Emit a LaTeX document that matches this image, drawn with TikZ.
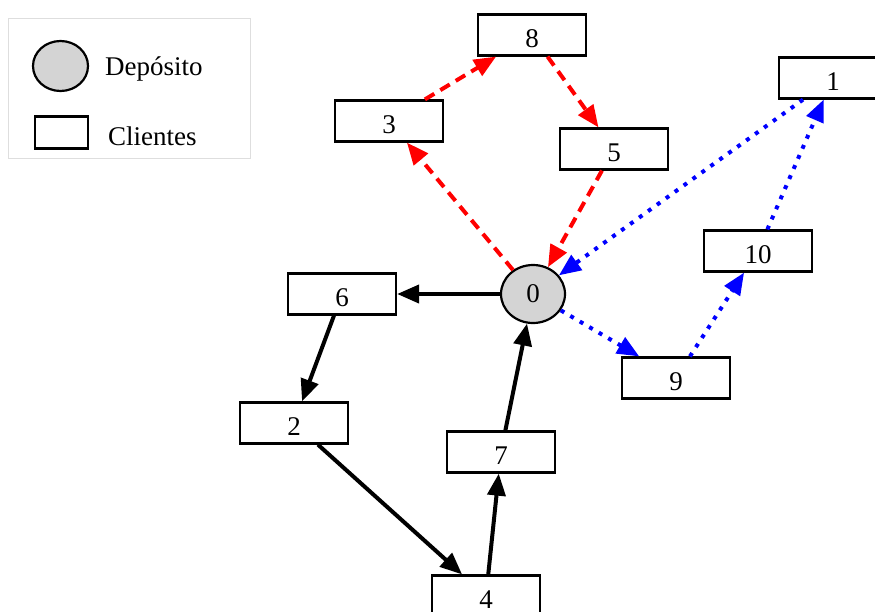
\documentclass[tikz,border=0pt]{standalone}
\usepackage{fontspec}
\setmainfont{Liberation Serif}
\usetikzlibrary{arrows.meta,shapes.geometric}
\begin{document}
\begin{tikzpicture}[x=1pt,y=-1pt,
  every node/.style={font=\fontsize{27}{32}\selectfont},
  client/.style={draw,line width=2.2pt,rectangle,minimum width=108pt,minimum height=41pt,
                 inner sep=0pt,text height=24pt,text depth=0pt},
  depot/.style={draw,line width=2.2pt,ellipse,fill=black!17,minimum width=64pt,
                minimum height=58pt,inner sep=0pt},
  tip/.style={-{Triangle[length=22pt,width=18pt]}},
  solidroute/.style={tip,line width=4pt,black},
  redroute/.style={tip,line width=4pt,red,dash pattern=on 11pt off 7pt},
  blueroute/.style={tip,line width=4pt,blue,dash pattern=on 4pt off 7pt},
]
\useasboundingbox (0,0) rectangle (875,611);

% legend
\node[draw=black!13,line width=1pt,minimum width=242pt,minimum height=140pt,inner sep=0pt]
  (legend) at (129,88) {};
\node[depot,minimum width=55pt,minimum height=50pt] (legdepot) at (60.5,66) {};
\node[anchor=west,inner sep=0pt] (legdepottext) at (105,69) {Depósito};
\node[client,minimum width=53pt,minimum height=32pt] (legclient) at (61.5,132.5) {};
\node[anchor=west,inner sep=0pt] (legclienttext) at (108,136) {Clientes};

% depot and clients
\node[depot] (n0) at (533,294) {0};
\node[client] (n1) at (833,78) {1};
\node[client] (n2) at (294,423) {2};
\node[client] (n3) at (389,121) {3};
\node[client] (n4) at (486,596) {4};
\node[client] (n5) at (614,149) {5};
\node[client] (n6) at (342,294) {6};
\node[client] (n7) at (501,452) {7};
\node[client] (n8) at (532,35) {8};
\node[client] (n9) at (676,378) {9};
\node[client] (n10) at (758,251) {10};

% route 1 (black)
\draw[solidroute] (n0) -- (n6);
\draw[solidroute] (n6) -- (n2);
\draw[solidroute] (n2) -- (n4);
\draw[solidroute] (n4) -- (n7);
\draw[solidroute] (n7) -- (n0);

% route 2 (red)
\draw[redroute] (n0) -- (n3);
\draw[redroute] (n3) -- (n8);
\draw[redroute] (n8) -- (n5);
\draw[redroute] (n5) -- (n0);

% route 3 (blue)
\draw[blueroute] (n0) -- (n9);
\draw[blueroute] (n9) -- (n10);
\draw[blueroute] (n10) -- (n1);
\draw[blueroute] (n1) -- (n0);
\end{tikzpicture}
\end{document}
